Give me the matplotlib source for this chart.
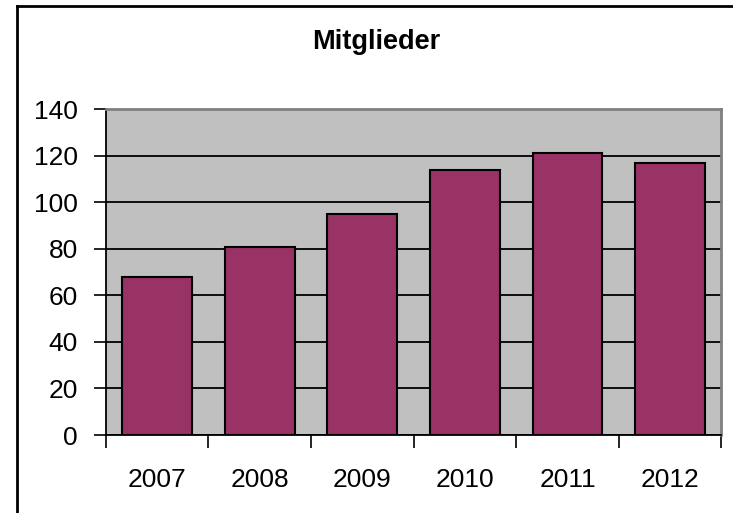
import matplotlib
matplotlib.use("Agg")
import matplotlib.pyplot as plt
from matplotlib.lines import Line2D

# data
years = ["2007", "2008", "2009", "2010", "2011", "2012"]
members = [68, 81, 95, 114, 121, 117]
yticks = [0, 20, 40, 60, 80, 100, 120, 140]

plt.rcParams['font.family'] = ['Liberation Sans', 'DejaVu Sans']

fig = plt.figure(figsize=(7.33, 5.13), dpi=100)
ax = fig.add_axes([0.1442, 0.152, 0.8401, 0.635])

x = range(len(years))
ax.set_facecolor("#C0C0C0")
ax.bar(x, members, width=0.68, color="#993366", edgecolor="black", linewidth=1.5, zorder=3)

ax.set_xlim(-0.5, len(years) - 0.5)
ax.set_ylim(0, 140)
ax.set_yticks(yticks)
ax.set_yticklabels([str(t) for t in yticks])
ax.yaxis.grid(True, color="black", linewidth=1.3, zorder=1)
ax.set_axisbelow(True)

# x ticks between categories, labels centred
ax.set_xticks([i - 0.5 for i in range(len(years) + 1)])
ax.set_xticklabels([])
ax.set_xticks(list(x), minor=True)
ax.set_xticklabels(years, minor=True)
ax.tick_params(axis='x', which='major', direction='out', length=9, width=1.2, color='black')
ax.tick_params(axis='x', which='minor', length=0, pad=24, labelsize=19)
ax.tick_params(axis='y', direction='out', length=9, width=1.2, pad=11, labelsize=19)

for s in ["top", "right"]:
    ax.spines[s].set_color("#808080")
    ax.spines[s].set_linewidth(2)
for s in ["left", "bottom"]:
    ax.spines[s].set_color("black")
    ax.spines[s].set_linewidth(1.3)

fig.text(0.5137, 0.918, "Mitglieder", ha='center', va='center', fontsize=19.5, fontweight='bold')

# outer chart border (only top and left are visible)
top = 1 - 6 / 513
left = 17 / 733
fig.add_artist(Line2D([left, 1.0], [top, top], color='black', linewidth=2))
fig.add_artist(Line2D([left, left], [0.0, top], color='black', linewidth=2))

fig.savefig("out.png", dpi=100)
